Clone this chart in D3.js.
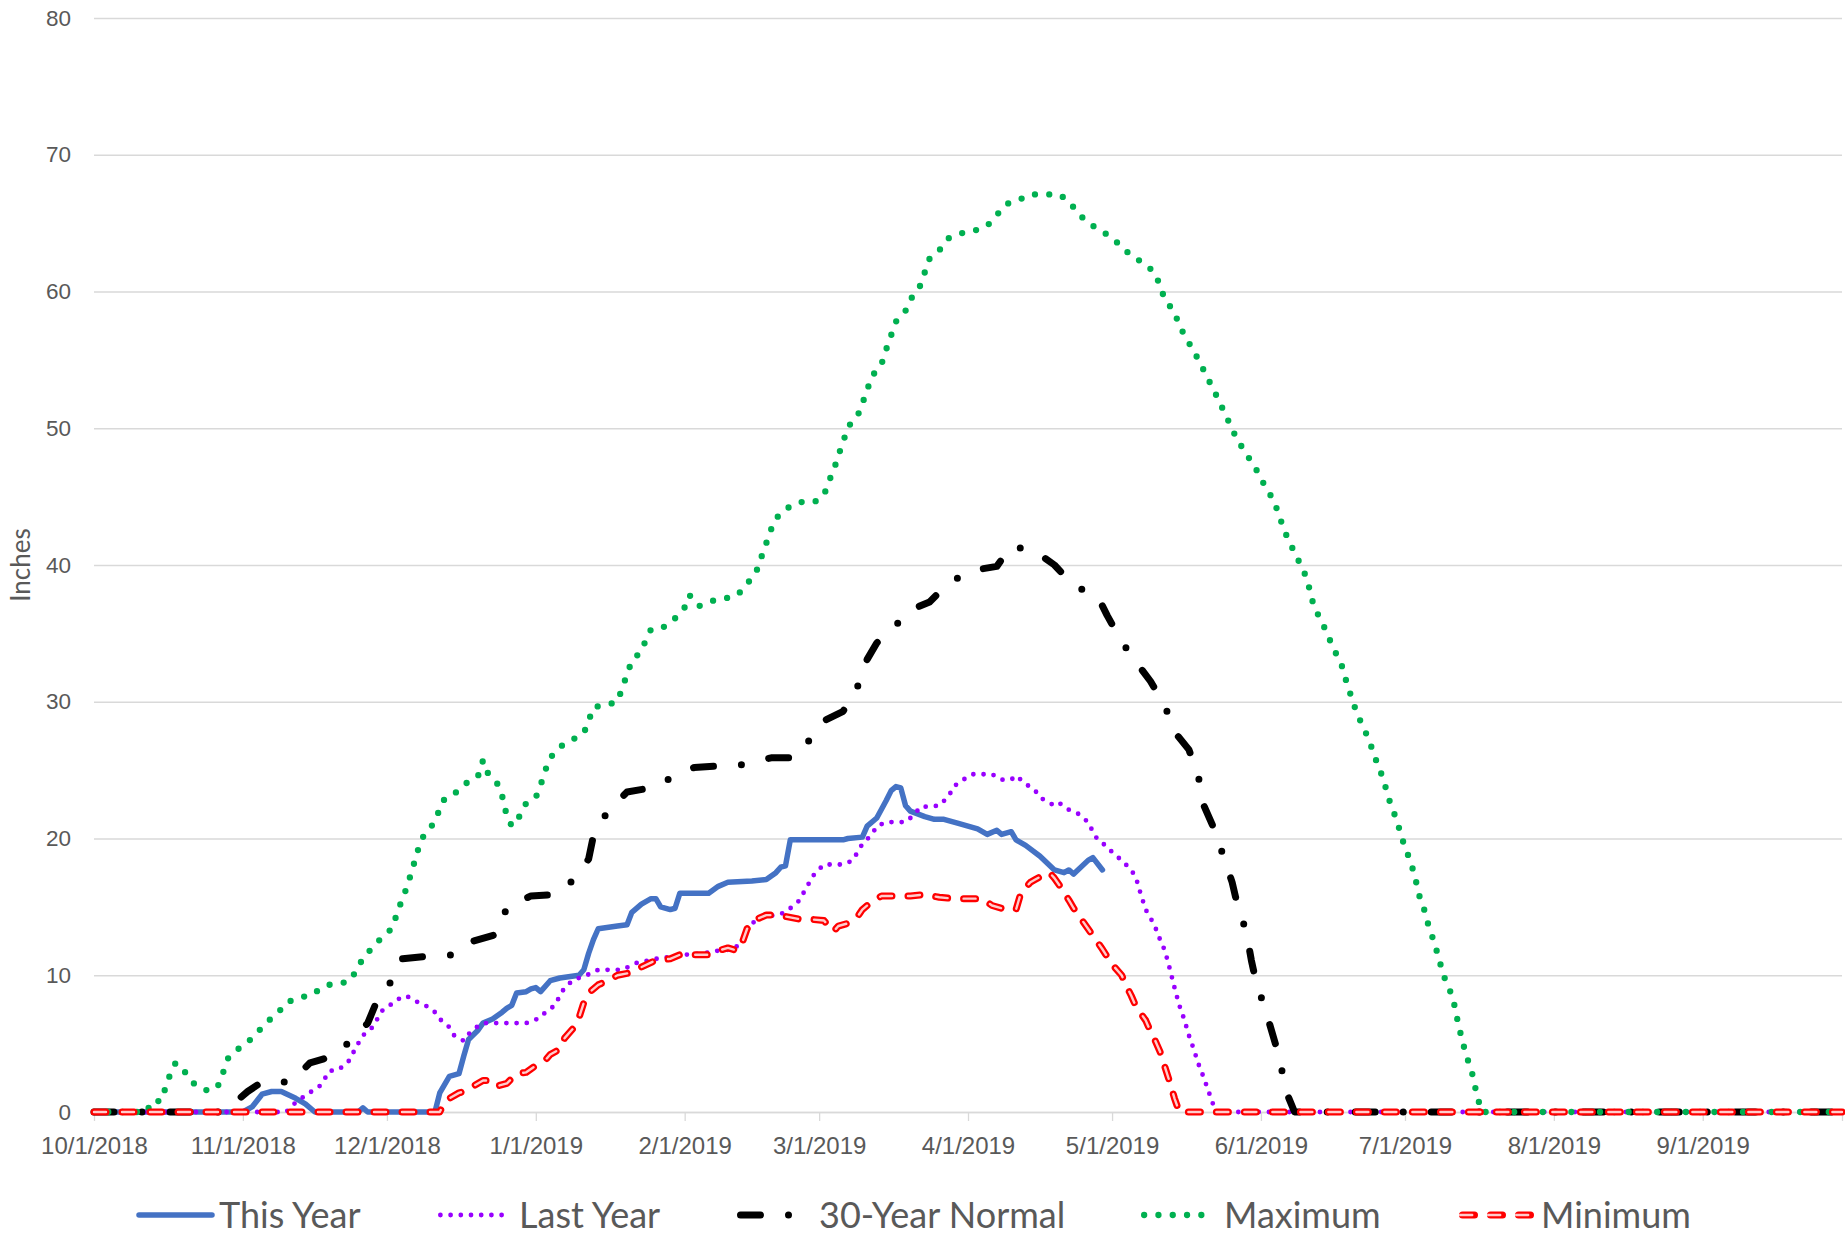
<!DOCTYPE html>
<html>
<head>
<meta charset="utf-8">
<script src="https://cdn.jsdelivr.net/npm/d3@7"></script>
<style>
  body { margin: 0; background: #fff; }
  svg { display: block; font-family: Lato, "Open Sans", sans-serif; }
</style>
</head>
<body>
<div id="chart"></div>
<script>
// axis ticks
const yTicks = [0, 10, 20, 30, 40, 50, 60, 70, 80];
const monthTicks = ["10/1/2018", "11/1/2018", "12/1/2018", "1/1/2019", "2/1/2019", "3/1/2019",
  "4/1/2019", "5/1/2019", "6/1/2019", "7/1/2019", "8/1/2019", "9/1/2019"];
const firstDay = "10/1/2018";
const lastDay = "9/30/2019";

const seriesNames = ["This Year", "Last Year", "30-Year Normal", "Maximum", "Minimum"];

// snow water equivalent, inches (date, value)
const thisYear = [
  ["10/1/2018", 0], ["11/1/2018", 0], ["11/3/2018", 0.4], ["11/5/2018", 1.3], ["11/7/2018", 1.5],
  ["11/9/2018", 1.5], ["11/12/2018", 1.0], ["11/14/2018", 0.6], ["11/16/2018", 0], ["11/25/2018", 0],
  ["11/26/2018", 0.3], ["11/27/2018", 0], ["12/11/2018", 0], ["12/12/2018", 1.4], ["12/14/2018", 2.6],
  ["12/16/2018", 2.8], ["12/17/2018", 4.1], ["12/18/2018", 5.3], ["12/20/2018", 6.0], ["12/21/2018", 6.5],
  ["12/23/2018", 6.8], ["12/25/2018", 7.3], ["12/26/2018", 7.6], ["12/27/2018", 7.8], ["12/28/2018", 8.7],
  ["12/30/2018", 8.8], ["12/31/2018", 9.0], ["1/1/2019", 9.1], ["1/2/2019", 8.8], ["1/4/2019", 9.6],
  ["1/6/2019", 9.8], ["1/10/2019", 10.0], ["1/11/2019", 10.4], ["1/12/2019", 11.6], ["1/13/2019", 12.6],
  ["1/14/2019", 13.4], ["1/18/2019", 13.6], ["1/20/2019", 13.7], ["1/21/2019", 14.6], ["1/23/2019", 15.2],
  ["1/25/2019", 15.6], ["1/26/2019", 15.6], ["1/27/2019", 15.0], ["1/29/2019", 14.8], ["1/30/2019", 14.9],
  ["1/31/2019", 16.0], ["2/6/2019", 16.0], ["2/8/2019", 16.5], ["2/10/2019", 16.8], ["2/15/2019", 16.9],
  ["2/18/2019", 17.0], ["2/20/2019", 17.5], ["2/21/2019", 17.9], ["2/22/2019", 18.0], ["2/23/2019", 19.9],
  ["3/6/2019", 19.9], ["3/7/2019", 20.0], ["3/10/2019", 20.1], ["3/11/2019", 20.9], ["3/13/2019", 21.5],
  ["3/15/2019", 22.8], ["3/16/2019", 23.5], ["3/17/2019", 23.8], ["3/18/2019", 23.7], ["3/19/2019", 22.4],
  ["3/20/2019", 22.0], ["3/23/2019", 21.6], ["3/25/2019", 21.4], ["3/27/2019", 21.4], ["3/30/2019", 21.1],
  ["4/3/2019", 20.7], ["4/5/2019", 20.3], ["4/7/2019", 20.6], ["4/8/2019", 20.3], ["4/10/2019", 20.5],
  ["4/11/2019", 19.9], ["4/13/2019", 19.5], ["4/16/2019", 18.7], ["4/19/2019", 17.7], ["4/21/2019", 17.5],
  ["4/22/2019", 17.7], ["4/23/2019", 17.4], ["4/26/2019", 18.4], ["4/27/2019", 18.6], ["4/29/2019", 17.7]
];

const lastYear = [
  ["10/1/2018", 0], ["11/10/2018", 0], ["11/12/2018", 0.7], ["11/14/2018", 1.2], ["11/17/2018", 1.9],
  ["11/18/2018", 2.4], ["11/19/2018", 3.0], ["11/21/2018", 3.1], ["11/23/2018", 3.7], ["11/25/2018", 5.0],
  ["11/26/2018", 5.6], ["11/28/2018", 6.2], ["11/29/2018", 6.8], ["11/30/2018", 7.4], ["12/2/2018", 7.9],
  ["12/3/2018", 8.2], ["12/5/2018", 8.5], ["12/7/2018", 8.1], ["12/9/2018", 7.8], ["12/11/2018", 7.3],
  ["12/12/2018", 6.8], ["12/14/2018", 6.2], ["12/15/2018", 5.6], ["12/17/2018", 5.2], ["12/18/2018", 5.7],
  ["12/20/2018", 6.3], ["12/21/2018", 6.5], ["12/30/2018", 6.5], ["1/2/2019", 6.9], ["1/3/2019", 7.3],
  ["1/5/2019", 7.8], ["1/6/2019", 8.5], ["1/7/2019", 9.1], ["1/9/2019", 9.7], ["1/11/2019", 9.9],
  ["1/14/2019", 10.4], ["1/19/2019", 10.4], ["1/22/2019", 10.9], ["1/26/2019", 11.2], ["2/1/2019", 11.5],
  ["2/5/2019", 11.6], ["2/8/2019", 11.8], ["2/11/2019", 11.9], ["2/13/2019", 12.4], ["2/14/2019", 13.4],
  ["2/16/2019", 14.1], ["2/18/2019", 14.3], ["2/20/2019", 14.4], ["2/22/2019", 14.6], ["2/23/2019", 14.9],
  ["2/25/2019", 15.5], ["2/26/2019", 16.2], ["2/27/2019", 16.8], ["2/28/2019", 17.4], ["3/2/2019", 18.1],
  ["3/6/2019", 18.1], ["3/8/2019", 18.4], ["3/9/2019", 19.0], ["3/10/2019", 19.6], ["3/12/2019", 20.3],
  ["3/13/2019", 20.9], ["3/15/2019", 21.2], ["3/19/2019", 21.2], ["3/21/2019", 21.8], ["3/22/2019", 22.3],
  ["3/26/2019", 22.4], ["3/28/2019", 23.1], ["3/29/2019", 23.8], ["3/31/2019", 24.3], ["4/2/2019", 24.7],
  ["4/6/2019", 24.7], ["4/8/2019", 24.3], ["4/10/2019", 24.3], ["4/11/2019", 24.6], ["4/13/2019", 24.0],
  ["4/15/2019", 23.5], ["4/16/2019", 23.0], ["4/18/2019", 22.6], ["4/19/2019", 22.4], ["4/20/2019", 22.6],
  ["4/22/2019", 22.1], ["4/24/2019", 21.8], ["4/26/2019", 21.2], ["4/27/2019", 20.5], ["4/28/2019", 19.9],
  ["4/30/2019", 19.4], ["5/1/2019", 19.0], ["5/3/2019", 18.4], ["5/5/2019", 17.7], ["5/6/2019", 17.1],
  ["5/7/2019", 15.9], ["5/8/2019", 14.8], ["5/9/2019", 14.2], ["5/10/2019", 13.5], ["5/11/2019", 12.6],
  ["5/12/2019", 11.8], ["5/13/2019", 10.5], ["5/14/2019", 9.1], ["5/15/2019", 7.8], ["5/16/2019", 6.8],
  ["5/17/2019", 5.6], ["5/18/2019", 4.6], ["5/19/2019", 3.5], ["5/20/2019", 2.6], ["5/21/2019", 1.6],
  ["5/22/2019", 0.6], ["5/23/2019", 0], ["9/30/2019", 0]
];

const normal30 = [
  ["10/1/2018", 0], ["10/27/2018", 0], ["10/29/2018", 0.3], ["10/31/2018", 0.9], ["11/2/2018", 1.5],
  ["11/5/2018", 2.2], ["11/11/2018", 2.2], ["11/15/2018", 3.6], ["11/20/2018", 4.1], ["11/24/2018", 5.4],
  ["11/27/2018", 6.5], ["11/29/2018", 8.2], ["12/2/2018", 9.6], ["12/4/2018", 11.2], ["12/10/2018", 11.4],
  ["12/15/2018", 11.5], ["12/19/2018", 12.5], ["12/24/2018", 13.0], ["12/26/2018", 15.0], ["12/31/2018", 15.8],
  ["1/5/2019", 15.9], ["1/9/2019", 17.0], ["1/12/2019", 18.5], ["1/13/2019", 20.2], ["1/16/2019", 22.0],
  ["1/20/2019", 23.4], ["1/25/2019", 23.7], ["1/29/2019", 24.4], ["2/3/2019", 25.2], ["2/8/2019", 25.3],
  ["2/13/2019", 25.4], ["2/19/2019", 25.9], ["2/24/2019", 25.9], ["2/27/2019", 27.2], ["3/2/2019", 28.6],
  ["3/6/2019", 29.3], ["3/9/2019", 31.1], ["3/11/2019", 33.1], ["3/13/2019", 34.3], ["3/17/2019", 35.6],
  ["3/20/2019", 36.7], ["3/24/2019", 37.3], ["3/28/2019", 38.7], ["4/2/2019", 39.6], ["4/7/2019", 39.9],
  ["4/10/2019", 41.4], ["4/15/2019", 41.0], ["4/19/2019", 40.0], ["4/23/2019", 38.5], ["4/28/2019", 37.7],
  ["4/30/2019", 36.3], ["5/3/2019", 34.4], ["5/6/2019", 32.9], ["5/9/2019", 31.5], ["5/12/2019", 29.7],
  ["5/14/2019", 27.8], ["5/17/2019", 26.5], ["5/19/2019", 24.5], ["5/20/2019", 22.5], ["5/22/2019", 20.9],
  ["5/24/2019", 18.9], ["5/26/2019", 16.8], ["5/27/2019", 15.3], ["5/29/2019", 13.1], ["5/30/2019", 11.1],
  ["5/31/2019", 9.5], ["6/2/2019", 7.4], ["6/4/2019", 5.0], ["6/5/2019", 3.8], ["6/6/2019", 1.7],
  ["6/8/2019", 0], ["9/30/2019", 0]
];

const maximum = [
  ["10/1/2018", 0], ["10/12/2018", 0], ["10/13/2018", 0.8], ["10/15/2018", 0.8], ["10/16/2018", 1.9],
  ["10/17/2018", 2.9], ["10/18/2018", 3.6], ["10/20/2018", 2.9], ["10/22/2018", 2.0], ["10/25/2018", 1.5],
  ["10/27/2018", 2.0], ["10/28/2018", 3.0], ["10/29/2018", 4.0], ["10/31/2018", 4.6], ["11/2/2018", 5.1],
  ["11/4/2018", 5.8], ["11/6/2018", 6.6], ["11/8/2018", 7.1], ["11/10/2018", 8.0], ["11/13/2018", 8.4],
  ["11/15/2018", 8.5], ["11/18/2018", 9.2], ["11/20/2018", 9.4], ["11/23/2018", 9.5], ["11/25/2018", 10.5],
  ["11/26/2018", 11.3], ["11/28/2018", 12.0], ["11/30/2018", 12.8], ["12/2/2018", 13.4], ["12/3/2018", 14.4],
  ["12/4/2018", 15.4], ["12/5/2018", 16.3], ["12/6/2018", 17.4], ["12/7/2018", 18.6], ["12/8/2018", 19.8],
  ["12/9/2018", 20.4], ["12/11/2018", 21.2], ["12/12/2018", 22.2], ["12/13/2018", 22.9], ["12/16/2018", 23.5],
  ["12/18/2018", 24.2], ["12/20/2018", 24.6], ["12/21/2018", 25.7], ["12/22/2018", 24.8], ["12/24/2018", 24.0],
  ["12/25/2018", 23.1], ["12/26/2018", 21.6], ["12/27/2018", 20.9], ["12/29/2018", 21.8], ["12/30/2018", 22.6],
  ["1/1/2019", 23.0], ["1/2/2019", 23.9], ["1/3/2019", 25.0], ["1/4/2019", 25.9], ["1/6/2019", 26.7],
  ["1/9/2019", 27.3], ["1/11/2019", 27.7], ["1/12/2019", 28.6], ["1/13/2019", 29.6], ["1/16/2019", 29.8],
  ["1/18/2019", 30.0], ["1/19/2019", 31.0], ["1/20/2019", 32.0], ["1/21/2019", 33.0], ["1/23/2019", 33.7],
  ["1/24/2019", 34.6], ["1/25/2019", 35.3], ["1/28/2019", 35.5], ["1/30/2019", 36.1], ["2/1/2019", 36.9],
  ["2/2/2019", 37.8], ["2/4/2019", 37.0], ["2/7/2019", 37.4], ["2/10/2019", 37.6], ["2/12/2019", 37.8],
  ["2/14/2019", 38.6], ["2/16/2019", 39.6], ["2/17/2019", 40.6], ["2/18/2019", 41.6], ["2/19/2019", 42.6],
  ["2/20/2019", 43.4], ["2/22/2019", 44.1], ["2/25/2019", 44.6], ["2/28/2019", 44.6], ["3/2/2019", 45.1],
  ["3/3/2019", 46.1], ["3/4/2019", 46.9], ["3/5/2019", 48.0], ["3/6/2019", 49.0], ["3/7/2019", 50.1],
  ["3/9/2019", 50.9], ["3/10/2019", 51.8], ["3/11/2019", 52.8], ["3/12/2019", 53.8], ["3/14/2019", 54.7],
  ["3/15/2019", 55.8], ["3/16/2019", 56.8], ["3/17/2019", 57.8], ["3/19/2019", 58.6], ["3/20/2019", 59.4],
  ["3/22/2019", 60.4], ["3/23/2019", 61.4], ["3/24/2019", 62.4], ["3/26/2019", 63.0], ["3/28/2019", 63.9],
  ["3/31/2019", 64.3], ["4/2/2019", 64.4], ["4/5/2019", 64.8], ["4/7/2019", 65.6], ["4/9/2019", 66.4],
  ["4/11/2019", 66.6], ["4/14/2019", 67.1], ["4/20/2019", 67.1], ["4/22/2019", 66.6], ["4/24/2019", 65.7],
  ["4/26/2019", 65.0], ["4/29/2019", 64.4], ["5/1/2019", 63.9], ["5/3/2019", 63.3], ["5/5/2019", 62.6],
  ["5/8/2019", 62.0], ["5/10/2019", 61.3], ["5/11/2019", 60.4], ["5/12/2019", 59.4], ["5/14/2019", 58.5],
  ["5/15/2019", 57.5], ["5/19/2019", 55.0], ["5/23/2019", 52.2], ["5/27/2019", 49.2], ["5/29/2019", 48.1],
  ["5/31/2019", 47.0], ["6/1/2019", 46.3], ["6/3/2019", 45.1], ["6/4/2019", 44.4], ["6/5/2019", 43.4],
  ["6/6/2019", 42.4], ["6/8/2019", 40.9], ["6/10/2019", 39.5], ["6/11/2019", 38.4], ["6/12/2019", 37.0],
  ["6/14/2019", 35.6], ["6/16/2019", 34.0], ["6/18/2019", 32.5], ["6/19/2019", 31.2], ["6/20/2019", 30.2],
  ["6/21/2019", 29.1], ["6/22/2019", 28.4], ["6/23/2019", 27.6], ["6/24/2019", 26.7], ["6/25/2019", 25.7],
  ["6/26/2019", 24.8], ["6/27/2019", 23.7], ["6/28/2019", 22.5], ["6/29/2019", 21.6], ["6/30/2019", 20.5],
  ["7/1/2019", 19.3], ["7/2/2019", 18.5], ["7/3/2019", 17.3], ["7/4/2019", 15.8], ["7/5/2019", 14.8],
  ["7/6/2019", 13.5], ["7/7/2019", 12.5], ["7/8/2019", 11.3], ["7/9/2019", 10.0], ["7/10/2019", 9.2],
  ["7/11/2019", 8.3], ["7/12/2019", 6.6], ["7/13/2019", 5.1], ["7/14/2019", 3.9], ["7/15/2019", 2.8],
  ["7/16/2019", 1.2], ["7/17/2019", 0], ["9/30/2019", 0]
];

const minimum = [
  ["10/1/2018", 0], ["12/12/2018", 0], ["12/13/2018", 0.7], ["12/14/2018", 1.0], ["12/16/2018", 1.4],
  ["12/17/2018", 1.5], ["12/19/2018", 1.9], ["12/21/2018", 2.3], ["12/23/2018", 2.3], ["12/24/2018", 1.9],
  ["12/26/2018", 2.1], ["12/28/2018", 2.8], ["12/30/2018", 2.9], ["1/1/2019", 3.4], ["1/3/2019", 3.8],
  ["1/4/2019", 4.2], ["1/6/2019", 4.6], ["1/7/2019", 5.4], ["1/9/2019", 6.2], ["1/10/2019", 6.9],
  ["1/11/2019", 8.0], ["1/12/2019", 8.7], ["1/14/2019", 9.3], ["1/16/2019", 9.6], ["1/18/2019", 10.0],
  ["1/21/2019", 10.2], ["1/23/2019", 10.6], ["1/26/2019", 11.1], ["1/29/2019", 11.2], ["1/31/2019", 11.5],
  ["2/6/2019", 11.5], ["2/8/2019", 11.8], ["2/10/2019", 12.0], ["2/12/2019", 11.8], ["2/13/2019", 12.4],
  ["2/14/2019", 13.4], ["2/16/2019", 14.1], ["2/18/2019", 14.4], ["2/20/2019", 14.4], ["2/22/2019", 14.3],
  ["2/25/2019", 14.1], ["2/27/2019", 14.1], ["3/2/2019", 14.0], ["3/3/2019", 13.6], ["3/4/2019", 13.2],
  ["3/5/2019", 13.6], ["3/7/2019", 13.8], ["3/9/2019", 14.3], ["3/10/2019", 14.8], ["3/12/2019", 15.4],
  ["3/14/2019", 15.8], ["3/17/2019", 15.8], ["3/20/2019", 15.8], ["3/23/2019", 15.9], ["3/26/2019", 15.7],
  ["3/29/2019", 15.6], ["4/4/2019", 15.6], ["4/6/2019", 15.1], ["4/8/2019", 14.9], ["4/11/2019", 14.8],
  ["4/12/2019", 16.0], ["4/14/2019", 16.8], ["4/15/2019", 17.0], ["4/17/2019", 17.4], ["4/18/2019", 17.5],
  ["4/19/2019", 17.1], ["4/20/2019", 16.6], ["4/22/2019", 15.5], ["4/23/2019", 14.9], ["4/25/2019", 13.9],
  ["4/26/2019", 13.4], ["4/28/2019", 12.4], ["4/29/2019", 11.9], ["5/1/2019", 10.8], ["5/3/2019", 10.0],
  ["5/4/2019", 9.2], ["5/5/2019", 8.5], ["5/6/2019", 7.7], ["5/8/2019", 6.7], ["5/9/2019", 5.9],
  ["5/10/2019", 5.2], ["5/11/2019", 4.4], ["5/12/2019", 3.3], ["5/13/2019", 2.2], ["5/14/2019", 1.0],
  ["5/15/2019", 0], ["9/30/2019", 0]
];

// Setting the SVG perimeter
let svgWidth = 1845;
let svgHeight = 1235;

let margin = { top: 18, right: 3, bottom: 123, left: 94 };
let width = svgWidth - margin.left - margin.right;
let height = svgHeight - margin.top - margin.bottom;

let textColor = "#595959";
let gridColor = "#d9d9d9";

let svg = d3.select("#chart")
  .append("svg")
  .attr("width", svgWidth)
  .attr("height", svgHeight);

let chartGroup = svg.append("g")
  .attr("transform", `translate(${margin.left}, ${margin.top})`);

let parseDate = d3.timeParse("%m/%d/%Y");

let x = d3.scaleTime()
  .domain([parseDate(firstDay), parseDate(lastDay)])
  .range([0, width]);

let y = d3.scaleLinear()
  .domain([0, 80])
  .range([height, 0]);

// gridlines + y labels
let yAxis = chartGroup.append("g")
  .call(d3.axisLeft(y).tickValues(yTicks).tickSize(-width).tickPadding(23));
yAxis.select(".domain").remove();
yAxis.selectAll("line").attr("stroke", gridColor).attr("stroke-width", 1.3);
yAxis.selectAll("text").attr("fill", textColor).attr("font-size", 22.5);

// x axis with month ticks (last tick at the end of the water year, unlabeled)
let xTickDates = monthTicks.map(parseDate).concat([parseDate(lastDay)]);
let xAxis = chartGroup.append("g")
  .attr("transform", `translate(0, ${height})`)
  .call(d3.axisBottom(x)
    .tickValues(xTickDates)
    .tickFormat((d, i) => i < monthTicks.length ? monthTicks[i] : "")
    .tickSize(9)
    .tickSizeOuter(0)
    .tickPadding(16));
xAxis.select(".domain").attr("stroke", gridColor).attr("stroke-width", 1.5);
xAxis.selectAll("line").attr("stroke", gridColor).attr("stroke-width", 1.3);
xAxis.selectAll("text").attr("fill", textColor).attr("font-size", 24);

// y axis title
svg.append("text")
  .attr("transform", `translate(30, 565) rotate(-90)`)
  .attr("text-anchor", "middle")
  .attr("fill", textColor)
  .attr("font-size", 26)
  .text("Inches");

let line = d3.line()
  .x(d => x(parseDate(d[0])))
  .y(d => y(d[1]));

// line styles, drawing order as in the workbook
let styles = [
  { name: seriesNames[0], data: thisYear, strokes: [{ color: "#4472c4", width: 5.5, dash: null, cap: "round" }] },
  { name: seriesNames[1], data: lastYear, strokes: [{ color: "#9900ff", width: 4.8, dash: "0 10.2", cap: "round" }] },
  { name: seriesNames[2], data: normal30, strokes: [{ color: "#000000", width: 7, dash: "20 28 0 28", cap: "round" }] },
  { name: seriesNames[3], data: maximum, strokes: [{ color: "#00b050", width: 6.3, dash: "0 14.3", cap: "round" }] },
  { name: seriesNames[4], data: minimum, strokes: [
      { color: "#ff0000", width: 7, dash: "12 16", cap: "round" },
      { color: "#ffcccc", width: 2.4, dash: "12 16", cap: "round" }] }
];

styles.forEach(s => {
  s.strokes.forEach(st => {
    chartGroup.append("path")
      .datum(s.data)
      .attr("d", line)
      .attr("fill", "none")
      .attr("stroke", st.color)
      .attr("stroke-width", st.width)
      .attr("stroke-dasharray", st.dash)
      .attr("stroke-linecap", st.cap)
      .attr("stroke-linejoin", "round");
  });
});

// legend
let legendX = [139, 438, 737, 1141, 1459];
let legendW = [73, 70, 56, 65, 73];
let legendTextX = [219, 519, 819, 1224, 1541];
let legendY = 1215;

let legend = svg.append("g");
styles.forEach((s, i) => {
  s.strokes.forEach(st => {
    legend.append("line")
      .attr("x1", legendX[i] + (st.dash !== null ? st.width / 2 : 0))
      .attr("x2", legendX[i] + legendW[i])
      .attr("y1", legendY)
      .attr("y2", legendY)
      .attr("stroke", st.color)
      .attr("stroke-width", st.width)
      .attr("stroke-dasharray", st.dash)
      .attr("stroke-linecap", st.cap);
  });
  legend.append("text")
    .attr("x", legendTextX[i])
    .attr("y", legendY + 13)
    .attr("fill", textColor)
    .attr("font-size", 36)
    .text(s.name);
});
</script>
</body>
</html>
